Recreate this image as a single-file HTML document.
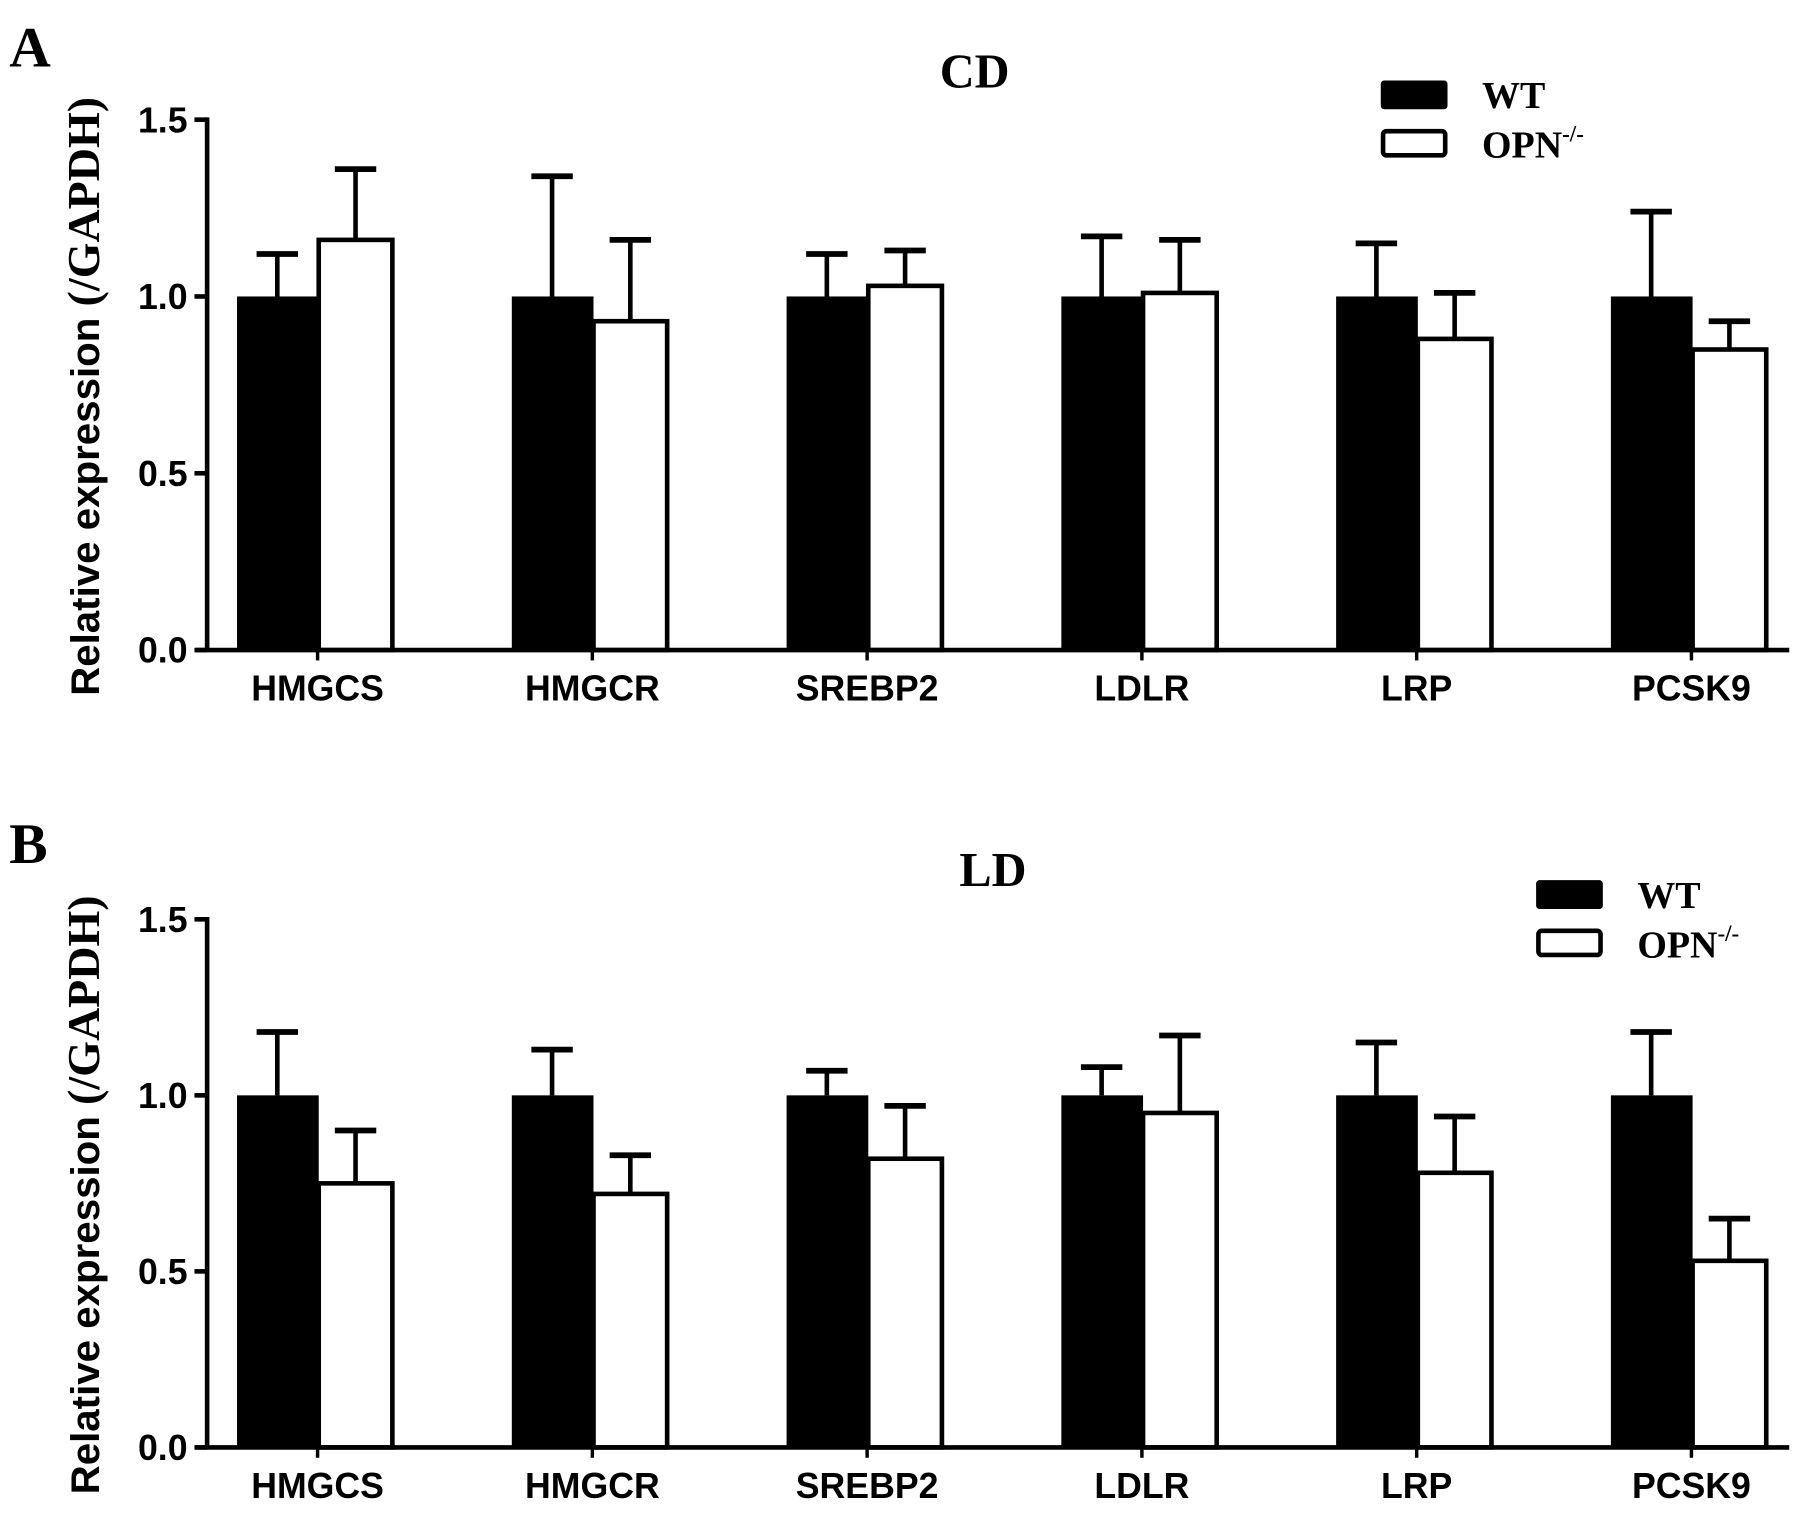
<!DOCTYPE html>
<html><head><meta charset="utf-8"><style>
html,body{margin:0;padding:0;background:#fff;}
svg{display:block;}
.sans{font-family:"Liberation Sans",Arial,sans-serif;font-weight:bold;}
.serif{font-family:"Liberation Serif","Times New Roman",serif;font-weight:bold;}
</style></head><body>
<svg id="fig" width="1795" height="1513" viewBox="0 0 1560 1315" preserveAspectRatio="none" xmlns="http://www.w3.org/2000/svg"></svg>
<script>
const categories = ["HMGCS","HMGCR","SREBP2","LDLR","LRP","PCSK9"];
const yTicks = [0.0,0.5,1.0,1.5];
const yTickLabels = ["0.0","0.5","1.0","1.5"];
const cdWT = [1.0,1.0,1.0,1.0,1.0,1.0];
const cdWTErr = [0.12,0.34,0.12,0.17,0.15,0.24];
const cdOPN = [1.16,0.93,1.03,1.01,0.88,0.85];
const cdOPNErr = [0.20,0.23,0.10,0.15,0.13,0.08];
const ldWT = [1.0,1.0,1.0,1.0,1.0,1.0];
const ldWTErr = [0.18,0.13,0.07,0.08,0.15,0.18];
const ldOPN = [0.75,0.72,0.82,0.95,0.78,0.53];
const ldOPNErr = [0.15,0.11,0.15,0.22,0.16,0.12];

const NS="http://www.w3.org/2000/svg";
const svg=document.getElementById('fig');
function mk(tag,attrs,parent){const e=document.createElementNS(NS,tag);for(const k in attrs)e.setAttribute(k,attrs[k]);(parent||svg).appendChild(e);return e;}

function panel(opt){
  const g=mk('g',{});
  
  
  const y0=opt.y0, yTop=opt.yTop;
  const yScale=v=>y0-(v/1.5)*(y0-yTop);
  const axX=180, groupStart=206, groupStep=238.8, bw=70;
  const xScale=i=>groupStart+i*groupStep;
  const L=mk('text',{x:8,y:opt.letterY,'font-size':50,class:'serif'},g);L.textContent=opt.letter;
  
  
  const T=mk('text',{x:opt.titleX,y:opt.titleY,'font-size':42,class:'serif','text-anchor':'middle'},g);T.textContent=opt.title;
  
  
  const yt=mk('text',{transform:`translate(86,${(yTop+y0)/2+10}) rotate(-90)`,'text-anchor':'middle','font-size':35},g);
  
  
  const t1=mk('tspan',{class:'sans'},yt);t1.textContent='Relative expression ';
  const t2=mk('tspan',{class:'serif','font-size':40},yt);t2.textContent='(/GAPDH)';
  for(let i=0;i<categories.length;i++){
    const x=xScale(i);
    const wtTop=yScale(opt.wt[i]), opTop=yScale(opt.opn[i]);
    const eW=mk('line',{x1:x+bw/2,x2:x+bw/2,y1:wtTop,y2:yScale(opt.wt[i]+opt.wtErr[i]),stroke:'#000','stroke-width':4},g);
    
    
    const cW=mk('line',{x1:x+bw/2-18,x2:x+bw/2+18,y1:yScale(opt.wt[i]+opt.wtErr[i]),y2:yScale(opt.wt[i]+opt.wtErr[i]),stroke:'#000','stroke-width':5},g);
    
    
    const eO=mk('line',{x1:x+bw+bw/2-2,x2:x+bw+bw/2-2,y1:opTop,y2:yScale(opt.opn[i]+opt.opnErr[i]),stroke:'#000','stroke-width':4},g);
    
    
    const cO=mk('line',{x1:x+bw+bw/2-20,x2:x+bw+bw/2+16,y1:yScale(opt.opn[i]+opt.opnErr[i]),y2:yScale(opt.opn[i]+opt.opnErr[i]),stroke:'#000','stroke-width':5},g);
    
    
    const bW=mk('rect',{x:x,y:wtTop,width:bw+1,height:y0-wtTop,fill:'#000'},g);
    
    
    const bO=mk('rect',{x:x+bw+1,y:opTop,width:bw-6,height:y0-opTop,fill:'#fff',stroke:'#000','stroke-width':4},g);
    
    
    const lab=mk('text',{x:x+bw,y:y0+44,'font-size':31,class:'sans','text-anchor':'middle'},g);lab.textContent=categories[i];
    
    
  }
  const ya=mk('line',{x1:axX,x2:axX,y1:yTop-2,y2:y0,stroke:'#000','stroke-width':4},g);
  
  
  const xa=mk('line',{x1:170,x2:1555,y1:y0,y2:y0,stroke:'#000','stroke-width':4},g);
  
  
  for(let i=0;i<categories.length;i++){
    const tk=mk('line',{x1:xScale(i)+bw,x2:xScale(i)+bw,y1:y0,y2:y0+9,stroke:'#000','stroke-width':3},g);
    
    
  }
  yTicks.forEach((v,j)=>{
    const tk=mk('line',{x1:169,x2:axX,y1:yScale(v),y2:yScale(v),stroke:'#000','stroke-width':4},g);
    
    
    const tl=mk('text',{x:163,y:yScale(v)+11,'font-size':31,class:'sans','text-anchor':'end'},g);tl.textContent=yTickLabels[j];
    
    
  });
  const lx=opt.legX, ly=opt.legY;
  const r1=mk('rect',{x:lx,y:ly,width:58,height:25,fill:'#000',rx:3},g);
  
  
  const l1=mk('text',{x:lx+88,y:ly+24,'font-size':33,class:'serif'},g);l1.textContent='WT';
  
  
  const r2=mk('rect',{x:lx+2,y:ly+44,width:54,height:21,fill:'#fff',stroke:'#000','stroke-width':4,rx:3},g);
  
  
  const l2=mk('text',{x:lx+88,y:ly+67,'font-size':33,class:'serif'},g);
  
  
  const s1=mk('tspan',{},l2);s1.textContent='OPN';
  const s2=mk('tspan',{'font-size':20,dy:-14},l2);s2.textContent='-/-';
}
panel({key:'cd',letter:'A',letterY:58,title:'CD',titleX:847,titleY:76,y0:565,yTop:104,wt:cdWT,wtErr:cdWTErr,opn:cdOPN,opnErr:cdOPNErr,legX:1200,legY:70});
panel({key:'ld',letter:'B',letterY:750,title:'LD',titleX:863,titleY:770,y0:1258,yTop:799,wt:ldWT,wtErr:ldWTErr,opn:ldOPN,opnErr:ldOPNErr,legX:1335,legY:765});
</script>
</body></html>
